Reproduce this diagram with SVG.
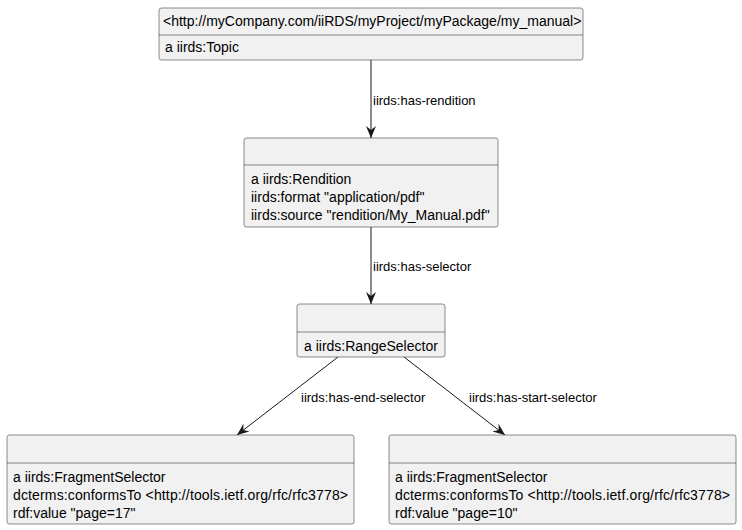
<svg xmlns="http://www.w3.org/2000/svg" width="742" height="530" viewBox="0 0 742 530">
<defs>
<style>
.box{fill:#F1F1F1;stroke:#181818;stroke-width:0.5}
.div{stroke:#181818;stroke-width:0.5}
.t{font-family:"Liberation Sans",Arial,sans-serif;font-size:14px;fill:#000}
.l{font-family:"Liberation Sans",Arial,sans-serif;font-size:13px;fill:#000}
.e{stroke:#181818;stroke-width:1;fill:none}
</style>
<marker id="ah" viewBox="0 0 12 12" refX="12" refY="6" markerWidth="12" markerHeight="12" markerUnits="userSpaceOnUse" orient="auto">
<path d="M0,1 L12,6 L0,11 L4,6 Z" fill="#181818"/>
</marker>
</defs>
<rect width="742" height="530" fill="#fff"/>
<g id="edges">
<line class="e" x1="371" y1="60" x2="371" y2="138" marker-end="url(#ah)"/>
<line class="e" x1="371" y1="227" x2="371" y2="304" marker-end="url(#ah)"/>
<line class="e" x1="338" y1="357" x2="237" y2="435" marker-end="url(#ah)"/>
<line class="e" x1="404" y1="357" x2="505" y2="435" marker-end="url(#ah)"/>
<text class="l" x="373" y="105">iirds:has-rendition</text>
<text class="l" x="373" y="271">iirds:has-selector</text>
<text class="l" x="301" y="402">iirds:has-end-selector</text>
<text class="l" x="469" y="402">iirds:has-start-selector</text>
</g>
<g id="n1">
<rect class="box" x="159" y="8" width="424" height="52" rx="2.5"/>
<line class="div" x1="159" y1="35" x2="583" y2="35"/>
<text class="t" x="163" y="26">&lt;http://myCompany.com/iiRDS/myProject/myPackage/my_manual&gt;</text>
<text class="t" x="165" y="52">a iirds:Topic</text>
</g>
<g id="n2">
<rect class="box" x="244" y="138" width="254" height="89" rx="2.5"/>
<line class="div" x1="244" y1="165" x2="498" y2="165"/>
<text class="t" x="251" y="184">a iirds:Rendition</text>
<text class="t" x="251" y="202">iirds:format "application/pdf"</text>
<text class="t" x="251" y="220">iirds:source "rendition/My_Manual.pdf"</text>
</g>
<g id="n3">
<rect class="box" x="297" y="304" width="148" height="53" rx="2.5"/>
<line class="div" x1="297" y1="332" x2="445" y2="332"/>
<text class="t" x="304" y="351">a iirds:RangeSelector</text>
</g>
<g id="n4">
<rect class="box" x="7" y="435" width="347" height="89" rx="2.5"/>
<line class="div" x1="7" y1="463" x2="354" y2="463"/>
<text class="t" x="13" y="482">a iirds:FragmentSelector</text>
<text class="t" x="13" y="500" textLength="335">dcterms:conformsTo &lt;http://tools.ietf.org/rfc/rfc3778&gt;</text>
<text class="t" x="13" y="518">rdf:value "page=17"</text>
</g>
<g id="n5">
<rect class="box" x="389" y="435" width="347" height="89" rx="2.5"/>
<line class="div" x1="389" y1="463" x2="736" y2="463"/>
<text class="t" x="395" y="482">a iirds:FragmentSelector</text>
<text class="t" x="395" y="500" textLength="335">dcterms:conformsTo &lt;http://tools.ietf.org/rfc/rfc3778&gt;</text>
<text class="t" x="395" y="518">rdf:value "page=10"</text>
</g>
</svg>
